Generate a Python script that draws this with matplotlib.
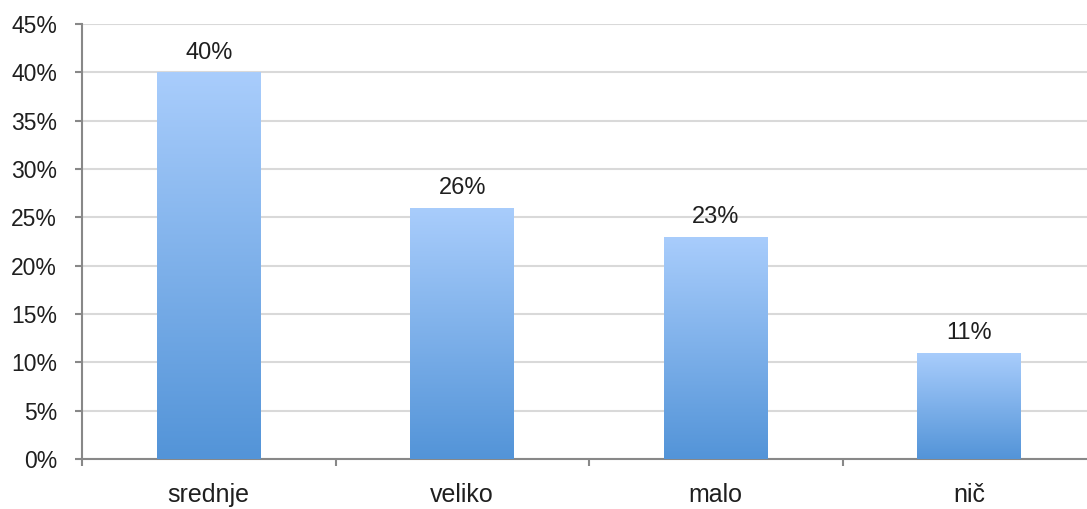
import numpy as np
import matplotlib
import matplotlib.pyplot as plt
from matplotlib.colors import LinearSegmentedColormap

matplotlib.use("Agg")

# Chart data
categories = ["srednje", "veliko", "malo", "nič"]
values = [40, 26, 23, 11]
y_ticks = [0, 5, 10, 15, 20, 25, 30, 35, 40, 45]

plt.rcParams["font.family"] = ["Liberation Sans", "DejaVu Sans"]
TEXT = "#1f1f1f"

fig = plt.figure(figsize=(10.87, 5.09), dpi=100)
ax = fig.add_axes([82 / 1087, 1 - 459 / 509, 1014 / 1087, 435 / 509])

x = np.arange(len(categories))
bars = ax.bar(x, values, width=0.41, color="none", edgecolor="none", zorder=3)

# vertical gradient, light at top, darker at bottom
cmap = LinearSegmentedColormap.from_list("grad", ["#5394d8", "#a9cdfc"])
grad = np.linspace(0, 1, 256).reshape(-1, 1)
for b in bars:
    x0, y0 = b.get_x(), b.get_y()
    w, h = b.get_width(), b.get_height()
    im = ax.imshow(grad, cmap=cmap, origin="lower", aspect="auto",
                   extent=(x0, x0 + w, y0, y0 + h), zorder=3)
    im.set_clip_path(b)

for xi, v in zip(x, values):
    ax.annotate(f"{v}%", (xi, v), xytext=(0, 9.5), textcoords="offset points",
                ha="center", va="baseline", fontsize=17, color=TEXT)

ax.set_xlim(-0.5, len(categories) - 0.5)
ax.set_ylim(0, 45)

ax.set_yticks(y_ticks)
ax.set_yticklabels([f"{t}%" for t in y_ticks])
ax.tick_params(axis="y", length=5, width=1.5, color="#888888", pad=13,
               labelsize=16.5, labelcolor=TEXT)

ax.set_xticks(np.arange(-0.5, len(categories)), labels=[""] * (len(categories) + 1))
ax.set_xticks(x, labels=categories, minor=True)
ax.tick_params(axis="x", which="major", length=5, width=1.5, color="#888888")
ax.tick_params(axis="x", which="minor", length=0, pad=17.5, labelsize=18,
               labelcolor=TEXT)

ax.grid(axis="y", color="#d9d9d9", linewidth=1.5, zorder=0)
ax.set_axisbelow(True)

for s in ["top", "right"]:
    ax.spines[s].set_visible(False)
for s in ["left", "bottom"]:
    ax.spines[s].set_color("#888888")
    ax.spines[s].set_linewidth(1.5)

fig.savefig("out.png", dpi=100)
